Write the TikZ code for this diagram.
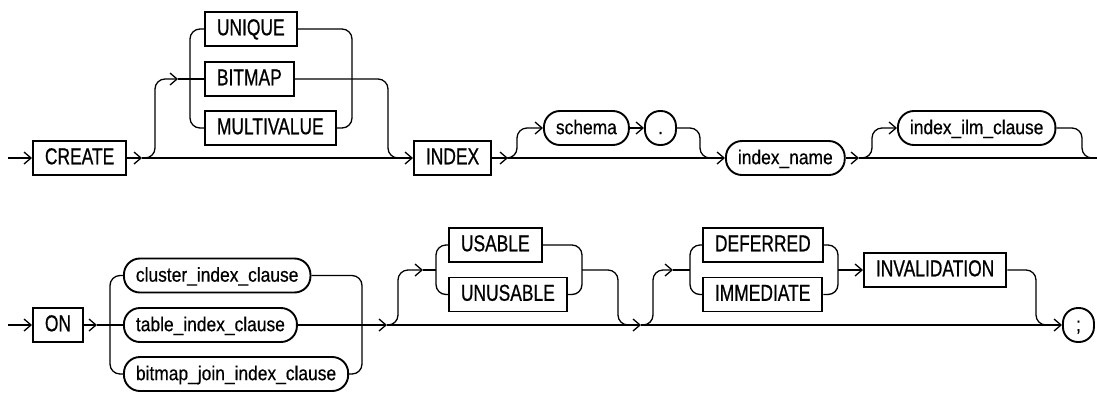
\documentclass[tikz,border=0pt]{standalone}
\usepackage{fontspec}
\usepackage{tikz}
\usetikzlibrary{arrows.meta}
\newfontfamily\kwfont{Liberation Sans}[FakeStretch=0.757,FakeBold=0.7]
\newfontfamily\idfont{Liberation Sans}[FakeStretch=0.87,FakeBold=0.5]

\begin{document}
\begin{tikzpicture}[>={Straight Barb[length=7pt,width=12pt]},x=1pt,y=-1pt,line width=1.3pt]
\tikzstyle{kw}=[draw,line width=1.9pt,font=\kwfont\fontsize{23}{25}\selectfont,minimum height=34pt,inner xsep=12pt,text height=16.5pt,text depth=4pt,anchor=west]
\tikzstyle{ident}=[draw,line width=1.9pt,rounded corners=16pt,font=\idfont\fontsize{20}{22}\selectfont,minimum height=34pt,inner xsep=12pt,text height=14.3pt,text depth=2pt,anchor=west]
\tikzstyle{sym}=[ident,minimum width=31pt,inner xsep=0pt,rounded corners=15pt]
\useasboundingbox (0,0) rectangle (1097,392);
\node[kw] (create) at (32,158) {CREATE};
\node[kw] (unique) at (204,29) {UNIQUE};
\node[kw] (bitmap) at (204,79) {BITMAP};
\node[kw] (multivalue) at (204,128) {MULTIVALUE};
\node[kw] (index) at (413,158) {INDEX};
\node[ident] (schema) at (543,128) {schema};
\node[sym] (dot) at (644,128) {.};
\node[ident] (iname) at (725,158) {index\_name};
\node[ident] (ilm) at (897,128) {index\_ilm\_clause};
\node[kw] (on) at (32,325) {ON};
\node[ident] (clu) at (123,275.5) {cluster\_index\_clause};
\node[ident] (tbl) at (123,325) {table\_index\_clause};
\node[ident] (bji) at (123,374) {bitmap\_join\_index\_clause};
\node[kw] (usable) at (448,245) {USABLE};
\node[kw] (unusable) at (448,294.5) {UNUSABLE};
\node[kw] (defer) at (702,245) {DEFERRED};
\node[kw] (immed) at (702,294.5) {IMMEDIATE};
\node[kw] (inval) at (863,270) {INVALIDATION};
\node[sym] (semi) at (1062,325) {;};
\coordinate (s1) at (8,158);
\coordinate (c1) at (142,158);
\coordinate (b1) at (178,79);
\coordinate (u1) at (352,79);
\coordinate (j2) at (388,158);
\coordinate (c2) at (508,158);
\coordinate (j3) at (700,158);
\coordinate (c3) at (859,158);
\coordinate (j4) at (1082,158);
\coordinate (e1) at (1097,158);
\coordinate (s2) at (8,325);
\coordinate (c4) at (97,325);
\coordinate (j5) at (362,325);
\coordinate (c5) at (387,325);
\coordinate (a1) at (423,270);
\coordinate (j6) at (582,270);
\coordinate (j7) at (618,325);
\coordinate (c6) at (641,325);
\coordinate (a2) at (673,270);
\coordinate (j8) at (838,270);
\coordinate (j9) at (1036,325);
\draw[->] (s1) -- (create);
\draw[->] (create) -- (c1);
\draw[->] (c1) -- (index);
\draw[->,rounded corners=10pt] (c1) -- ++(13,0) |- (b1);
\draw (b1) -- (bitmap);
\draw[rounded corners=10pt] (unique.west) -- ++(-14,0) |- (multivalue.west);
\draw[rounded corners=10pt] (unique.east) -| (u1) |- (multivalue.east);
\draw[rounded corners=10pt] (bitmap.east) -| (j2) -- ++(12,0);
\draw[->] (index) -- (c2);
\draw[->] (c2) -- (iname);
\draw[->,rounded corners=10pt] (c2) -- ++(9,0) |- (schema.west);
\draw[->] (schema) -- (dot);
\draw[rounded corners=10pt] (dot.east) -| (j3) -- ++(12,0);
\draw[->] (iname) -- (c3);
\draw (c3) -- (e1);
\draw[->,rounded corners=10pt] (c3) -- ++(13,0) |- (ilm.west);
\draw[rounded corners=10pt] (ilm.east) -| (j4) -- (e1);
\draw[->] (s2) -- (on);
\draw[->] (on) -- (c4);
\draw (c4) -- (tbl);
\draw[rounded corners=10pt] (clu.west) -- ++(-13,0) |- (bji.west);
\draw[rounded corners=10pt] (clu.east) -| (j5) |- (bji.east);
\draw[->] (tbl) -- (c5);
\draw[->] (c5) -- (c6);
\draw[->,rounded corners=10pt] (c5) -- ++(11,0) |- (a1);
\draw (a1) -- ++(13,0);
\draw[rounded corners=10pt] (usable.west) -- ++(-12,0) |- (unusable.west);
\draw[rounded corners=10pt] (usable.east) -| (j6) |- (unusable.east);
\draw[rounded corners=10pt] (j6) -| (j7) -- ++(12,0);
\draw[->] (c6) -- (semi);
\draw[->,rounded corners=10pt] (c6) -- ++(12,0) |- (a2);
\draw (a2) -- ++(17,0);
\draw[rounded corners=10pt] (defer.west) -- ++(-12,0) |- (immed.west);
\draw[rounded corners=10pt] (defer.east) -| (j8) |- (immed.east);
\draw[->] (j8) -- (inval);
\draw[rounded corners=10pt] (inval.east) -| (j9) -- ++(12,0);
\end{tikzpicture}
\end{document}
